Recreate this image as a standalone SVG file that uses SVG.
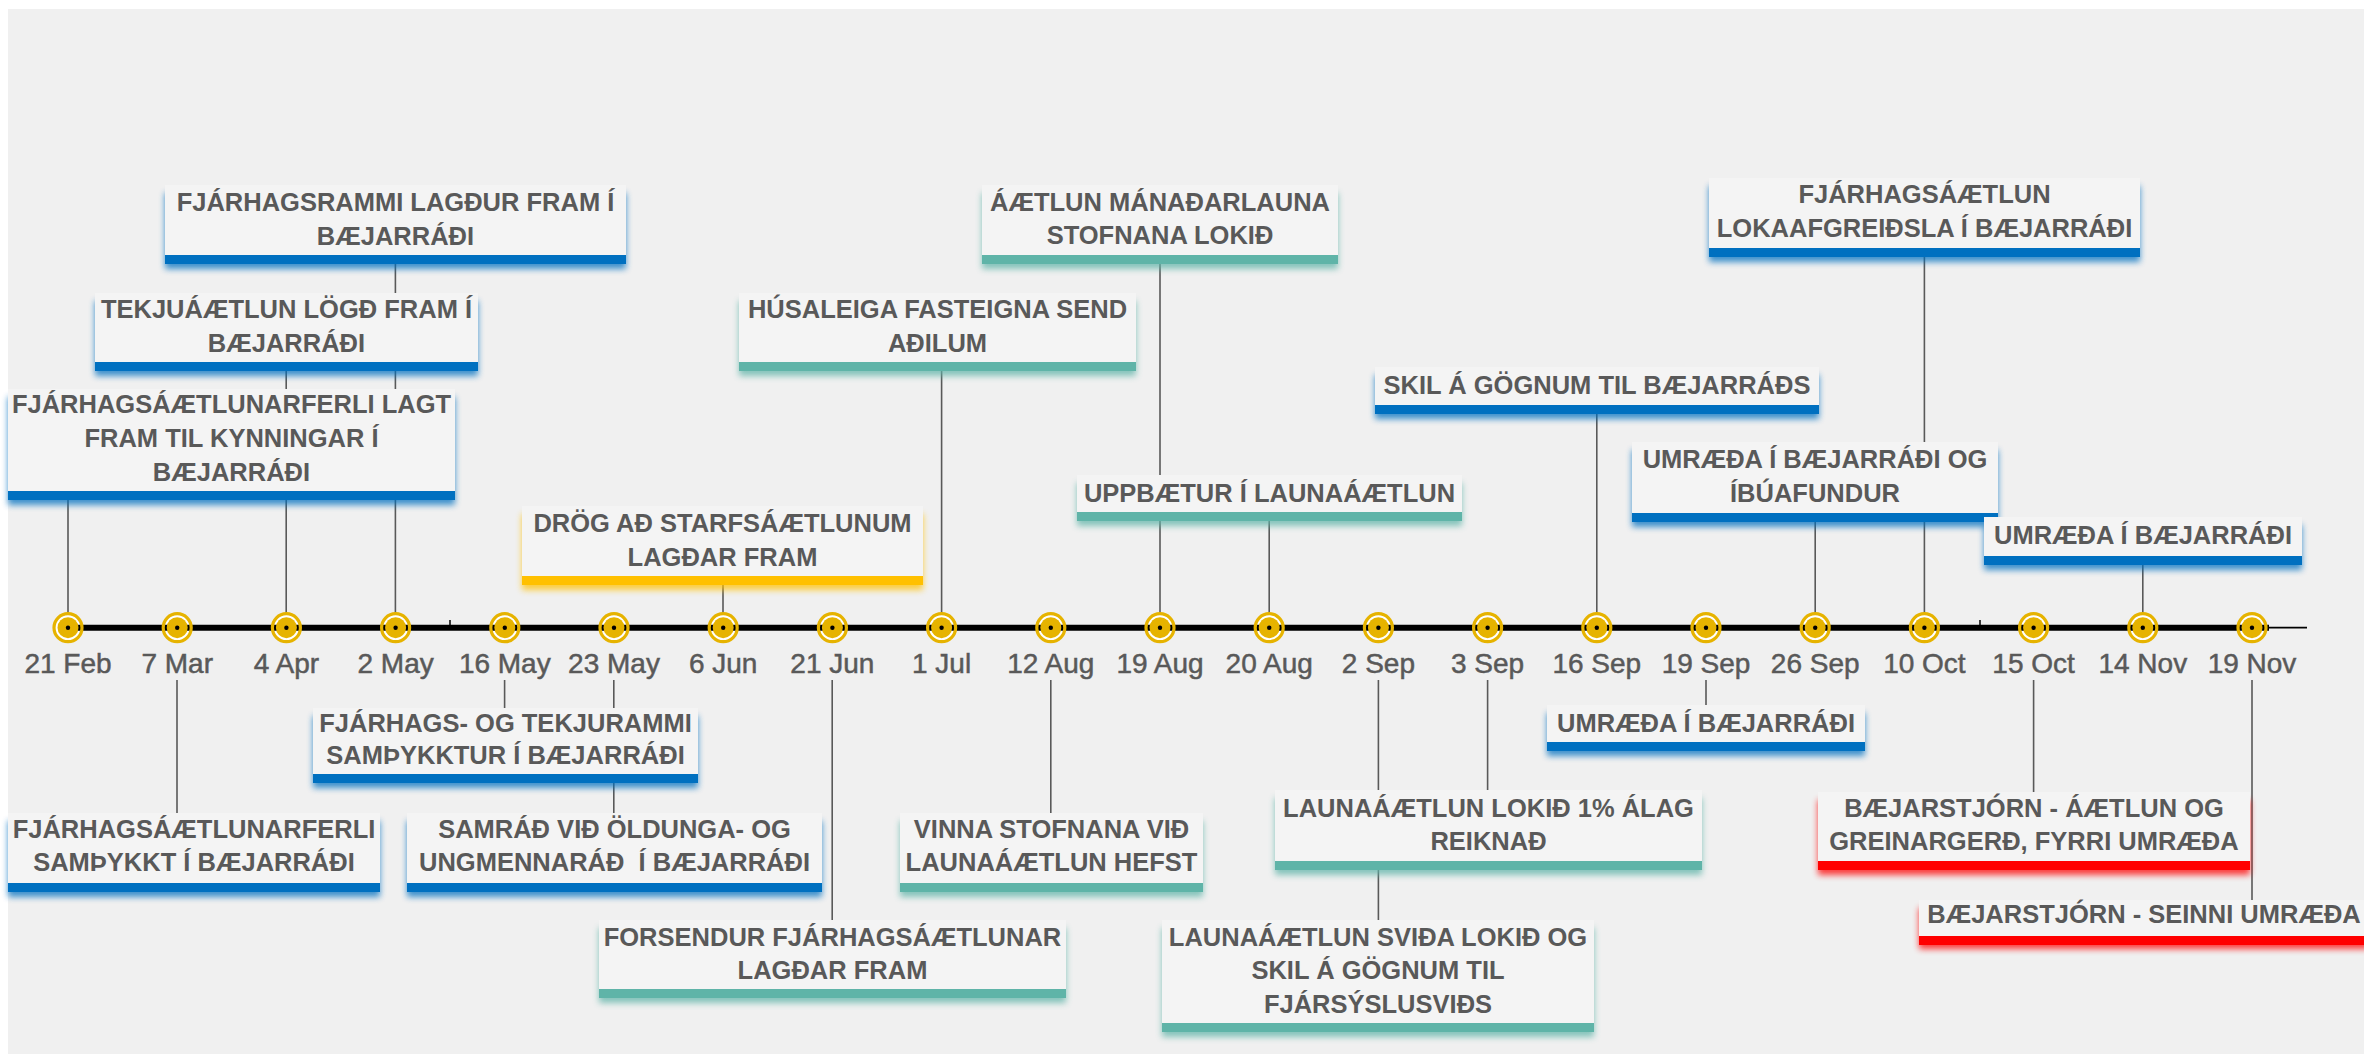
<svg xmlns="http://www.w3.org/2000/svg" xmlns:xlink="http://www.w3.org/1999/xlink" width="2364" height="1054" viewBox="0 0 2364 1054">
<style>
.card{fill:#f4f4f4}
.b{fill:#0070c0}.t{fill:#5fb4a8}.y{fill:#ffc000}.r{fill:#ff0000}
.glow{filter:url(#soft);opacity:0.75}
.lbl{font-family:"Liberation Sans",Arial,sans-serif;font-weight:bold;font-size:25.5px;fill:#595959;text-anchor:middle}
.date{font-family:"Liberation Sans",Arial,sans-serif;font-size:28px;fill:#595959;stroke:#595959;stroke-width:0.5;text-anchor:middle}
.conn{stroke:#595959;stroke-width:1.6;fill:none}
</style>
<defs>
<filter id="soft" x="-10%" y="-40%" width="120%" height="180%"><feGaussianBlur stdDeviation="3.2"/></filter>
<g id="mkbg"><circle r="14" fill="#ffffff"/></g>
<g id="mkfg"><circle r="14" fill="none" stroke="#e6b300" stroke-width="3.2"/><circle r="10.5" fill="#e6b300"/><circle r="2.2" fill="#000"/></g>
</defs>
<rect x="0" y="0" width="2364" height="1054" fill="#ffffff"/>
<rect x="8" y="9" width="2356" height="1045" fill="#f0f0f0"/>

<g id="connectors">
<line class="conn" x1="68" y1="500" x2="68" y2="628"/>
<line class="conn" x1="177" y1="628" x2="177" y2="643"/><line class="conn" x1="177" y1="680" x2="177" y2="813"/>
<line class="conn" x1="286.2" y1="371" x2="286.2" y2="628"/>
<line class="conn" x1="395.4" y1="264" x2="395.4" y2="628"/>
<line class="conn" x1="504.6" y1="628" x2="504.6" y2="643"/><line class="conn" x1="504.6" y1="680" x2="504.6" y2="708"/>
<line class="conn" x1="613.8" y1="628" x2="613.8" y2="643"/><line class="conn" x1="613.8" y1="680" x2="613.8" y2="813"/>
<line class="conn" x1="723" y1="585" x2="723" y2="628"/>
<line class="conn" x1="832.2" y1="628" x2="832.2" y2="643"/><line class="conn" x1="832.2" y1="680" x2="832.2" y2="920"/>
<line class="conn" x1="941.6" y1="371" x2="941.6" y2="628"/>
<line class="conn" x1="1050.8" y1="628" x2="1050.8" y2="643"/><line class="conn" x1="1050.8" y1="680" x2="1050.8" y2="813"/>
<line class="conn" x1="1160" y1="264" x2="1160" y2="628"/>
<line class="conn" x1="1269.2" y1="521" x2="1269.2" y2="628"/>
<line class="conn" x1="1378.4" y1="628" x2="1378.4" y2="643"/><line class="conn" x1="1378.4" y1="680" x2="1378.4" y2="920"/>
<line class="conn" x1="1487.6" y1="628" x2="1487.6" y2="643"/><line class="conn" x1="1487.6" y1="680" x2="1487.6" y2="790"/>
<line class="conn" x1="1596.8" y1="414" x2="1596.8" y2="628"/>
<line class="conn" x1="1706" y1="628" x2="1706" y2="643"/><line class="conn" x1="1706" y1="680" x2="1706" y2="705"/>
<line class="conn" x1="1815.2" y1="522" x2="1815.2" y2="628"/>
<line class="conn" x1="1924.4" y1="257" x2="1924.4" y2="628"/>
<line class="conn" x1="2033.6" y1="628" x2="2033.6" y2="643"/><line class="conn" x1="2033.6" y1="680" x2="2033.6" y2="792"/>
<line class="conn" x1="2142.8" y1="565" x2="2142.8" y2="628"/>
<line class="conn" x1="2252" y1="628" x2="2252" y2="643"/><line class="conn" x1="2252" y1="680" x2="2252" y2="900"/>
</g>

<g id="axis">
<use xlink:href="#mkbg" x="68" y="627.7"/><use xlink:href="#mkbg" x="177.2" y="627.7"/><use xlink:href="#mkbg" x="286.4" y="627.7"/><use xlink:href="#mkbg" x="395.6" y="627.7"/><use xlink:href="#mkbg" x="504.8" y="627.7"/><use xlink:href="#mkbg" x="614" y="627.7"/><use xlink:href="#mkbg" x="723.2" y="627.7"/><use xlink:href="#mkbg" x="832.4" y="627.7"/><use xlink:href="#mkbg" x="941.6" y="627.7"/><use xlink:href="#mkbg" x="1050.8" y="627.7"/><use xlink:href="#mkbg" x="1160" y="627.7"/><use xlink:href="#mkbg" x="1269.2" y="627.7"/><use xlink:href="#mkbg" x="1378.4" y="627.7"/><use xlink:href="#mkbg" x="1487.6" y="627.7"/><use xlink:href="#mkbg" x="1596.8" y="627.7"/><use xlink:href="#mkbg" x="1706" y="627.7"/><use xlink:href="#mkbg" x="1815.2" y="627.7"/><use xlink:href="#mkbg" x="1924.4" y="627.7"/><use xlink:href="#mkbg" x="2033.6" y="627.7"/><use xlink:href="#mkbg" x="2142.8" y="627.7"/><use xlink:href="#mkbg" x="2252" y="627.7"/>
<line x1="68" y1="627.7" x2="2269" y2="627.7" stroke="#000" stroke-width="6"/>
<line x1="2260" y1="627.7" x2="2307" y2="627.7" stroke="#000" stroke-width="1.8"/>
<line x1="450" y1="620" x2="450" y2="626" stroke="#000" stroke-width="1.5"/>
<line x1="1980" y1="620" x2="1980" y2="626" stroke="#000" stroke-width="1.5"/>
<use xlink:href="#mkfg" x="68" y="627.7"/><use xlink:href="#mkfg" x="177.2" y="627.7"/><use xlink:href="#mkfg" x="286.4" y="627.7"/><use xlink:href="#mkfg" x="395.6" y="627.7"/><use xlink:href="#mkfg" x="504.8" y="627.7"/><use xlink:href="#mkfg" x="614" y="627.7"/><use xlink:href="#mkfg" x="723.2" y="627.7"/><use xlink:href="#mkfg" x="832.4" y="627.7"/><use xlink:href="#mkfg" x="941.6" y="627.7"/><use xlink:href="#mkfg" x="1050.8" y="627.7"/><use xlink:href="#mkfg" x="1160" y="627.7"/><use xlink:href="#mkfg" x="1269.2" y="627.7"/><use xlink:href="#mkfg" x="1378.4" y="627.7"/><use xlink:href="#mkfg" x="1487.6" y="627.7"/><use xlink:href="#mkfg" x="1596.8" y="627.7"/><use xlink:href="#mkfg" x="1706" y="627.7"/><use xlink:href="#mkfg" x="1815.2" y="627.7"/><use xlink:href="#mkfg" x="1924.4" y="627.7"/><use xlink:href="#mkfg" x="2033.6" y="627.7"/><use xlink:href="#mkfg" x="2142.8" y="627.7"/><use xlink:href="#mkfg" x="2252" y="627.7"/>
</g>

<g id="dates">
<text class="date" x="68" y="673">21 Feb</text>
<text class="date" x="177.2" y="673">7 Mar</text>
<text class="date" x="286.4" y="673">4 Apr</text>
<text class="date" x="395.6" y="673">2 May</text>
<text class="date" x="504.8" y="673">16 May</text>
<text class="date" x="614" y="673">23 May</text>
<text class="date" x="723.2" y="673">6 Jun</text>
<text class="date" x="832.4" y="673">21 Jun</text>
<text class="date" x="941.6" y="673">1 Jul</text>
<text class="date" x="1050.8" y="673">12 Aug</text>
<text class="date" x="1160" y="673">19 Aug</text>
<text class="date" x="1269.2" y="673">20 Aug</text>
<text class="date" x="1378.4" y="673">2 Sep</text>
<text class="date" x="1487.6" y="673">3 Sep</text>
<text class="date" x="1596.8" y="673">16 Sep</text>
<text class="date" x="1706" y="673">19 Sep</text>
<text class="date" x="1815.2" y="673">26 Sep</text>
<text class="date" x="1924.4" y="673">10 Oct</text>
<text class="date" x="2033.6" y="673">15 Oct</text>
<text class="date" x="2142.8" y="673">14 Nov</text>
<text class="date" x="2252" y="673">19 Nov</text>
</g>

<g id="box-a">
<rect class="b glow" x="165" y="193" width="461" height="76"/>
<rect class="card" x="165" y="185" width="461" height="70"/>
<rect class="b" x="165" y="255" width="461" height="9"/>
<text class="lbl" x="395.5" y="211">FJÁRHAGSRAMMI LAGÐUR FRAM Í</text>
<text class="lbl" x="395.5" y="245">BÆJARRÁÐI</text>
</g>
<g id="box-k">
<rect class="t glow" x="982" y="193" width="356" height="76"/>
<rect class="card" x="982" y="185" width="356" height="70"/>
<rect class="t" x="982" y="255" width="356" height="9"/>
<text class="lbl" x="1160" y="211">ÁÆTLUN MÁNAÐARLAUNA</text>
<text class="lbl" x="1160" y="244">STOFNANA LOKIÐ</text>
</g>
<g id="box-o">
<rect class="b glow" x="1709" y="186" width="431" height="76"/>
<rect class="card" x="1709" y="178" width="431" height="70"/>
<rect class="b" x="1709" y="248" width="431" height="9"/>
<text class="lbl" x="1924.5" y="203">FJÁRHAGSÁÆTLUN</text>
<text class="lbl" x="1924.5" y="237">LOKAAFGREIÐSLA Í BÆJARRÁÐI</text>
</g>
<g id="box-b">
<rect class="b glow" x="95" y="301" width="383" height="75"/>
<rect class="card" x="95" y="293" width="383" height="69"/>
<rect class="b" x="95" y="362" width="383" height="9"/>
<text class="lbl" x="286.5" y="318">TEKJUÁÆTLUN LÖGÐ FRAM Í</text>
<text class="lbl" x="286.5" y="352">BÆJARRÁÐI</text>
</g>
<g id="box-l">
<rect class="t glow" x="739" y="301" width="397" height="75"/>
<rect class="card" x="739" y="293" width="397" height="69"/>
<rect class="t" x="739" y="362" width="397" height="9"/>
<text class="lbl" x="937.5" y="318">HÚSALEIGA FASTEIGNA SEND</text>
<text class="lbl" x="937.5" y="352">AÐILUM</text>
</g>
<g id="box-p">
<rect class="b glow" x="1375" y="375" width="444" height="44"/>
<rect class="card" x="1375" y="367" width="444" height="38"/>
<rect class="b" x="1375" y="405" width="444" height="9"/>
<text class="lbl" x="1597" y="394">SKIL Á GÖGNUM TIL BÆJARRÁÐS</text>
</g>
<g id="box-c">
<rect class="b glow" x="8" y="397" width="447" height="108"/>
<rect class="card" x="8" y="389" width="447" height="102"/>
<rect class="b" x="8" y="491" width="447" height="9"/>
<text class="lbl" x="231.5" y="413">FJÁRHAGSÁÆTLUNARFERLI LAGT</text>
<text class="lbl" x="231.5" y="447">FRAM TIL KYNNINGAR Í</text>
<text class="lbl" x="231.5" y="481">BÆJARRÁÐI</text>
</g>
<g id="box-q">
<rect class="b glow" x="1632" y="450" width="366" height="77"/>
<rect class="card" x="1632" y="442" width="366" height="71"/>
<rect class="b" x="1632" y="513" width="366" height="9"/>
<text class="lbl" x="1815" y="468">UMRÆÐA Í BÆJARRÁÐI OG</text>
<text class="lbl" x="1815" y="502">ÍBÚAFUNDUR</text>
</g>
<g id="box-m">
<rect class="t glow" x="1077" y="483" width="385" height="43"/>
<rect class="card" x="1077" y="475" width="385" height="37"/>
<rect class="t" x="1077" y="512" width="385" height="9"/>
<text class="lbl" x="1269.5" y="502">UPPBÆTUR Í LAUNAÁÆTLUN</text>
</g>
<g id="box-r">
<rect class="b glow" x="1984" y="525" width="318" height="45"/>
<rect class="card" x="1984" y="517" width="318" height="39"/>
<rect class="b" x="1984" y="556" width="318" height="9"/>
<text class="lbl" x="2143" y="544">UMRÆÐA Í BÆJARRÁÐI</text>
</g>
<g id="box-n">
<rect class="y glow" x="522" y="514" width="401" height="76"/>
<rect class="card" x="522" y="506" width="401" height="70"/>
<rect class="y" x="522" y="576" width="401" height="9"/>
<text class="lbl" x="722.5" y="532">DRÖG AÐ STARFSÁÆTLUNUM</text>
<text class="lbl" x="722.5" y="566">LAGÐAR FRAM</text>
</g>
<g id="box-e">
<rect class="b glow" x="313" y="716" width="385" height="72"/>
<rect class="card" x="313" y="708" width="385" height="66"/>
<rect class="b" x="313" y="774" width="385" height="9"/>
<text class="lbl" x="505.5" y="732">FJÁRHAGS- OG TEKJURAMMI</text>
<text class="lbl" x="505.5" y="764">SAMÞYKKTUR Í BÆJARRÁÐI</text>
</g>
<g id="box-s">
<rect class="b glow" x="1547" y="713" width="318" height="43"/>
<rect class="card" x="1547" y="705" width="318" height="37"/>
<rect class="b" x="1547" y="742" width="318" height="9"/>
<text class="lbl" x="1706" y="732">UMRÆÐA Í BÆJARRÁÐI</text>
</g>
<g id="box-i">
<rect class="t glow" x="1275" y="798" width="427" height="77"/>
<rect class="card" x="1275" y="790" width="427" height="71"/>
<rect class="t" x="1275" y="861" width="427" height="9"/>
<text class="lbl" x="1488.5" y="817">LAUNAÁÆTLUN LOKIÐ 1% ÁLAG</text>
<text class="lbl" x="1488.5" y="850">REIKNAÐ</text>
</g>
<g id="box-t">
<rect class="r glow" x="1818" y="800" width="432" height="75"/>
<rect class="card" x="1818" y="792" width="432" height="69"/>
<rect class="r" x="1818" y="861" width="432" height="9"/>
<text class="lbl" x="2034" y="817">BÆJARSTJÓRN - ÁÆTLUN OG</text>
<text class="lbl" x="2034" y="850">GREINARGERÐ, FYRRI UMRÆÐA</text>
</g>
<g id="box-d">
<rect class="b glow" x="8" y="821" width="372" height="76"/>
<rect class="card" x="8" y="813" width="372" height="70"/>
<rect class="b" x="8" y="883" width="372" height="9"/>
<text class="lbl" x="194" y="838">FJÁRHAGSÁÆTLUNARFERLI</text>
<text class="lbl" x="194" y="871">SAMÞYKKT Í BÆJARRÁÐI</text>
</g>
<g id="box-f">
<rect class="b glow" x="407" y="821" width="415" height="76"/>
<rect class="card" x="407" y="813" width="415" height="70"/>
<rect class="b" x="407" y="883" width="415" height="9"/>
<text class="lbl" x="614.5" y="838">SAMRÁÐ VIÐ ÖLDUNGA- OG</text>
<text class="lbl" x="614.5" y="871" xml:space="preserve" style="white-space:pre">UNGMENNARÁÐ  Í BÆJARRÁÐI</text>
</g>
<g id="box-h">
<rect class="t glow" x="900" y="821" width="303" height="76"/>
<rect class="card" x="900" y="813" width="303" height="70"/>
<rect class="t" x="900" y="883" width="303" height="9"/>
<text class="lbl" x="1051.5" y="838">VINNA STOFNANA VIÐ</text>
<text class="lbl" x="1051.5" y="871">LAUNAÁÆTLUN HEFST</text>
</g>
<g id="box-u">
<rect class="r glow" x="1919" y="908" width="450" height="41"/>
<rect class="card" x="1919" y="900" width="450" height="36"/>
<rect class="r" x="1919" y="936" width="450" height="9"/>
<text class="lbl" x="2144" y="923">BÆJARSTJÓRN - SEINNI UMRÆÐA</text>
</g>
<g id="box-g">
<rect class="t glow" x="599" y="928" width="467" height="75"/>
<rect class="card" x="599" y="920" width="467" height="69"/>
<rect class="t" x="599" y="989" width="467" height="9"/>
<text class="lbl" x="832.5" y="946">FORSENDUR FJÁRHAGSÁÆTLUNAR</text>
<text class="lbl" x="832.5" y="979">LAGÐAR FRAM</text>
</g>
<g id="box-j">
<rect class="t glow" x="1162" y="928" width="432" height="109"/>
<rect class="card" x="1162" y="920" width="432" height="103"/>
<rect class="t" x="1162" y="1023" width="432" height="9"/>
<text class="lbl" x="1378" y="946">LAUNAÁÆTLUN SVIÐA LOKIÐ OG</text>
<text class="lbl" x="1378" y="979">SKIL Á GÖGNUM TIL</text>
<text class="lbl" x="1378" y="1013">FJÁRSÝSLUSVIÐS</text>
</g>
</svg>
